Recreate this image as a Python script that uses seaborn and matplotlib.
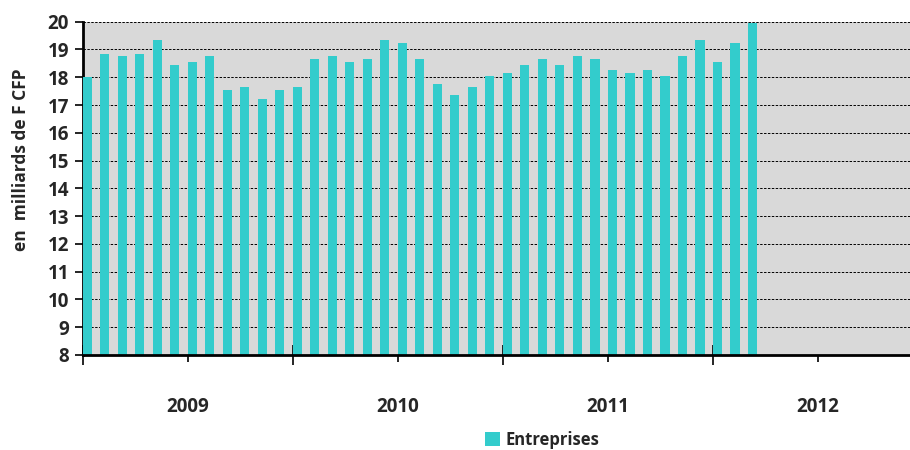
import matplotlib
matplotlib.use("Agg")
import matplotlib.pyplot as plt
from matplotlib.patches import Patch
import seaborn as sns
import pandas as pd
import numpy as np

# Monthly outstanding amounts, January 2009 to March 2012
months = pd.date_range("2009-01-01", periods=39, freq="MS").strftime("%Y-%m").tolist()
entreprises = [18.0, 18.85, 18.75, 18.85, 19.35, 18.45, 18.55, 18.75, 17.55, 17.65, 17.2, 17.55,
               17.65, 18.65, 18.75, 18.55, 18.65, 19.35, 19.25, 18.65, 17.75, 17.35, 17.65, 18.05,
               18.15, 18.45, 18.65, 18.45, 18.75, 18.65, 18.25, 18.15, 18.25, 18.05, 18.75, 19.35,
               18.55, 19.25, 19.95]
years = ["2009", "2010", "2011", "2012"]
y_ticks = list(range(8, 21))

series_name = "Entreprises"
bar_color = "#33CCCC"

sns.set_theme(style="white")
plt.rcParams["font.family"] = ["Open Sans", "DejaVu Sans"]
plt.rcParams["font.weight"] = "bold"

df = pd.DataFrame({"pos": np.arange(len(entreprises)), "value": entreprises, "month": months})

fig = plt.figure(figsize=(9.1, 4.5), dpi=100)
ax = fig.add_axes([83 / 910, 1 - 355 / 450, 1 - 83 / 910, (355 - 21.7) / 450])
ax.set_facecolor("#D9D9D9")

sns.barplot(data=df, x="pos", y="value", native_scale=True, color=bar_color,
            saturation=1, width=0.52, linewidth=0, ax=ax, zorder=3)

ax.set_ylim(8, 20)
ax.set_xlim(-0.25, 47.0)

# dashed horizontal grid
ax.set_yticks(y_ticks)
for v in y_ticks[1:]:
    ax.axhline(v, color="black", linestyle=(0, (2.5, 1.5)), linewidth=0.7, zorder=1)

ax.set_yticklabels([str(v) for v in y_ticks], fontsize=13.5, fontweight="bold")
ax.tick_params(axis="y", direction="out", length=6, width=1.2, color="black", pad=4, left=True)

# year labels centred in each year span, year boundaries as longer ticks
n_years = len(years)
centers = [5.75 + 12 * i for i in range(n_years)]
bounds = [11.75 + 12 * i for i in range(n_years - 1)]
ax.set_xticks(centers)
ax.set_xticklabels(years, fontsize=13.5, fontweight="bold")
ax.tick_params(axis="x", which="major", direction="out", length=5, width=1.2, color="black",
               pad=25, bottom=True)
ax.set_xticks(bounds + [-0.25], minor=True)
ax.tick_params(axis="x", which="minor", direction="inout", length=14, width=1.2, color="black",
               bottom=True)

ax.set_xlabel("")
ax.set_ylabel("en  milliards de F CFP", fontsize=12.5, fontweight="bold")
ax.yaxis.set_label_coords(-0.064, 0.585)

for side in ["top", "right"]:
    ax.spines[side].set_visible(False)
for side in ["left", "bottom"]:
    ax.spines[side].set_color("black")
    ax.spines[side].set_linewidth(2)
ax.spines["bottom"].set_zorder(5)

fig.legend(handles=[Patch(facecolor=bar_color, edgecolor="none", label=series_name)],
           loc="center", bbox_to_anchor=(542 / 910, 1 - 440 / 450), frameon=False,
           handlelength=0.9, handleheight=0.9, handletextpad=0.3,
           prop={"weight": "bold", "size": 12})

fig.savefig("out.png", dpi=100)
